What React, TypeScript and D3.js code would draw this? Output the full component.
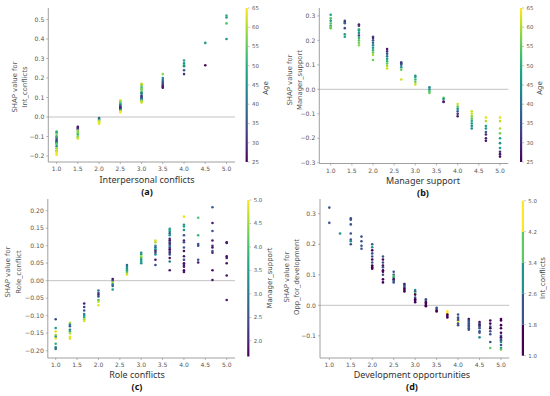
import React from "react";
import * as d3 from "d3";

// ---- (a) Interpersonal conflicts, coloured by Age
const intX = [1.0, 1.5, 2.0, 2.5, 3.0, 3.5, 4.0, 4.5, 5.0];
const intShap = [
  [-0.075, -0.08, -0.09, -0.1, -0.105, -0.11, -0.12, -0.125, -0.13, -0.135, -0.14, -0.15, -0.16, -0.17, -0.175, -0.18, -0.19, -0.195],
  [-0.05, -0.055, -0.06, -0.065, -0.07, -0.08, -0.085, -0.09, -0.1, -0.105, -0.11],
  [-0.005, -0.01, -0.015, -0.02, -0.025, -0.03, -0.035],
  [0.085, 0.08, 0.075, 0.07, 0.065, 0.06, 0.055, 0.05, 0.045, 0.04, 0.035, 0.03, 0.025],
  [0.17, 0.165, 0.16, 0.15, 0.145, 0.14, 0.13, 0.125, 0.12, 0.11, 0.105, 0.1, 0.095, 0.09, 0.085, 0.08, 0.075],
  [0.22, 0.2, 0.19, 0.18, 0.175, 0.165, 0.16, 0.155, 0.15],
  [0.29, 0.275, 0.265, 0.26, 0.24, 0.22],
  [0.38, 0.265],
  [0.52, 0.51, 0.48, 0.4],
];
const intAge = [
  [52, 48, 58, 45, 55, 40, 30, 35, 42, 50, 55, 45, 58, 62, 60, 63, 64, 65],
  [27, 28, 30, 32, 58, 55, 60, 52, 56, 60, 62],
  [36, 40, 46, 60, 62, 63, 64],
  [60, 62, 55, 58, 48, 42, 38, 30, 28, 35, 45, 62, 64],
  [60, 62, 56, 50, 58, 55, 58, 48, 40, 38, 30, 35, 33, 45, 54, 60, 62],
  [58, 45, 40, 38, 36, 32, 30, 29, 27],
  [48, 46, 52, 45, 35, 30],
  [47, 26],
  [52, 48, 54, 46],
];

// ---- (b) Manager support, coloured by Age
const mgrX = [1.0, 1.333, 1.667, 2.0, 2.333, 2.667, 3.0, 3.333, 3.667, 4.0, 4.333, 4.667, 5.0];
const mgrShap = [
  [0.305, 0.29, 0.28, 0.27, 0.26, 0.255, 0.25],
  [0.28, 0.275, 0.27, 0.25, 0.225, 0.215],
  [0.265, 0.26, 0.245, 0.24, 0.23, 0.22, 0.21, 0.2, 0.19, 0.18],
  [0.215, 0.21, 0.2, 0.19, 0.18, 0.17, 0.16, 0.15, 0.14, 0.12],
  [0.165, 0.155, 0.145, 0.135, 0.125, 0.115, 0.105, 0.095, 0.085],
  [0.11, 0.105, 0.1, 0.09, 0.08, 0.04],
  [0.055, 0.05, 0.04, 0.03, 0.02],
  [0.008, 0.0, -0.008, -0.015],
  [-0.035, -0.04, -0.05, -0.052],
  [-0.06, -0.07, -0.08, -0.09, -0.1, -0.11],
  [-0.09, -0.1, -0.11, -0.12, -0.13, -0.14, -0.15, -0.16],
  [-0.115, -0.13, -0.15, -0.16, -0.175, -0.185, -0.2, -0.21],
  [-0.115, -0.13, -0.16, -0.18, -0.2, -0.22, -0.24, -0.255, -0.265, -0.275],
];
const mgrAge = [
  [48, 54, 46, 55, 45, 58, 55],
  [35, 30, 38, 35, 47, 48],
  [28, 30, 53, 47, 45, 32, 52, 55, 56, 58],
  [35, 30, 36, 38, 44, 46, 52, 55, 60, 56],
  [28, 30, 35, 42, 46, 52, 55, 60, 62],
  [35, 30, 38, 45, 55, 62],
  [45, 48, 52, 56, 62],
  [44, 46, 53, 56],
  [55, 46, 30, 28],
  [62, 55, 44, 38, 30, 28],
  [62, 61, 58, 55, 50, 47, 45, 44],
  [63, 60, 48, 46, 36, 30, 28, 27],
  [63, 61, 60, 56, 48, 45, 47, 30, 28, 26],
];

// ---- (c) Role conflicts, coloured by Manager_support
const roleX = [1.0, 1.333, 1.667, 2.0, 2.333, 2.667, 3.0, 3.333, 3.667, 4.0, 4.333, 4.667, 5.0];
const roleShap = [
  [-0.11, -0.135, -0.145, -0.155, -0.16, -0.165, -0.18, -0.19, -0.195],
  [-0.12, -0.125, -0.13, -0.14, -0.145, -0.15, -0.16, -0.165],
  [-0.065, -0.075, -0.085, -0.095, -0.1, -0.105, -0.11, -0.115],
  [-0.028, -0.035, -0.04, -0.045, -0.055, -0.06, -0.07],
  [0.005, 0.0, -0.005, -0.01, -0.015, -0.025],
  [0.045, 0.04, 0.035, 0.03, 0.025, 0.02, 0.018],
  [0.08, 0.075, 0.07, 0.065, 0.06, 0.055, 0.05],
  [0.115, 0.11, 0.1, 0.095, 0.09, 0.085, 0.08, 0.075, 0.06, 0.045],
  [0.148, 0.145, 0.14, 0.135, 0.13, 0.12, 0.115, 0.11, 0.105, 0.1, 0.095, 0.09, 0.085, 0.08, 0.075, 0.065, 0.055, 0.03],
  [0.183, 0.16, 0.155, 0.145, 0.13, 0.115, 0.11, 0.095, 0.085, 0.07, 0.06, 0.05, 0.045, 0.04, 0.03, 0.025],
  [0.18, 0.13, 0.105, 0.1, 0.06, 0.052],
  [0.21, 0.165, 0.142, 0.115, 0.1, 0.095, 0.085, 0.08, 0.03, 0.002],
  [0.11, 0.108, 0.07, 0.065, 0.05, 0.015, -0.055],
];
const roleMgr = [
  [2.4, 3.5, 4.8, 4.5, 3.3, 4.9, 3.8, 3.2, 2.8],
  [4.7, 3.2, 2.6, 3.0, 3.8, 4.6, 4.9, 4.8],
  [1.9, 2.3, 2.6, 3.2, 3.4, 3.8, 4.5, 4.8],
  [3.0, 2.4, 2.0, 2.5, 4.0, 4.7, 4.9],
  [1.8, 2.4, 4.6, 3.3, 2.7, 3.5],
  [2.8, 3.2, 3.4, 3.6, 4.0, 4.5, 4.8],
  [3.3, 3.5, 4.6, 4.0, 3.3, 3.6, 3.4],
  [4.8, 4.6, 3.2, 2.6, 3.5, 2.0, 2.5, 3.3, 1.9, 2.4],
  [3.4, 3.8, 3.2, 2.6, 3.5, 2.0, 1.8, 2.5, 1.9, 3.0, 2.4, 1.8, 2.3, 1.9, 2.5, 1.8, 3.0, 1.9],
  [4.9, 3.4, 3.7, 3.3, 2.5, 2.0, 2.4, 2.6, 1.8, 1.9, 2.3, 1.8, 2.0, 1.9, 1.8, 1.8],
  [4.1, 3.9, 2.6, 2.5, 2.6, 1.9],
  [2.7, 1.9, 2.5, 1.9, 2.3, 1.8, 2.6, 2.0, 1.8, 1.8],
  [1.8, 1.9, 1.8, 1.9, 1.8, 1.8, 1.9],
];

// ---- (d) Development opportunities, coloured by Int_conflicts
const devX = [1.0, 1.25, 1.5, 1.75, 2.0, 2.25, 2.5, 2.75, 3.0, 3.25, 3.5, 3.75, 4.0, 4.25, 4.5, 4.75, 5.0];
const devShap = [
  [0.32, 0.27],
  [0.235],
  [0.285, 0.28, 0.265, 0.235, 0.215, 0.21, 0.2],
  [0.225, 0.21, 0.195, 0.185],
  [0.2, 0.19, 0.18, 0.17, 0.16, 0.15, 0.14, 0.13, 0.125, 0.12],
  [0.16, 0.15, 0.14, 0.13, 0.125, 0.115, 0.11, 0.1, 0.085, 0.075],
  [0.11, 0.1, 0.095, 0.09, 0.085, 0.08, 0.075],
  [0.07, 0.065, 0.06, 0.055, 0.05, 0.045],
  [0.05, 0.045, 0.04, 0.035, 0.025, 0.02, 0.015, 0.01],
  [0.02, 0.015, 0.01, 0.005, 0.0, -0.003],
  [-0.008, -0.012, -0.018, -0.02],
  [-0.02, -0.025, -0.03, -0.035, -0.04],
  [-0.03, -0.04, -0.045, -0.05, -0.055, -0.06, -0.065],
  [-0.045, -0.05, -0.055, -0.06, -0.065, -0.07, -0.075, -0.08],
  [-0.055, -0.06, -0.065, -0.07, -0.075, -0.085, -0.09, -0.105],
  [-0.05, -0.06, -0.07, -0.075, -0.085, -0.095, -0.12, -0.14],
  [-0.045, -0.05, -0.065, -0.075, -0.09, -0.1, -0.105, -0.11, -0.115, -0.12, -0.13, -0.14, -0.145],
];
const devInt = [
  [2.2, 2.2],
  [3.0],
  [2.2, 2.2, 2.2, 2.2, 2.2, 3.0, 2.2],
  [2.2, 2.2, 2.2, 2.2],
  [2.2, 3.0, 1.4, 2.2, 2.2, 1.4, 2.2, 1.4, 1.4, 1.4],
  [2.2, 1.4, 2.2, 1.4, 2.2, 1.4, 1.4, 2.2, 1.4, 1.4],
  [2.2, 2.2, 3.8, 3.0, 1.4, 2.2, 2.2],
  [1.4, 2.2, 2.2, 1.4, 1.4, 1.4],
  [3.0, 2.2, 3.8, 1.4, 2.2, 1.4, 1.4, 1.4],
  [2.2, 2.2, 1.4, 1.4, 1.4, 1.4],
  [2.2, 2.2, 1.4, 1.4],
  [4.6, 4.6, 1.4, 1.4, 1.4],
  [2.2, 2.2, 2.2, 2.2, 4.6, 2.2, 2.2],
  [1.4, 2.2, 2.2, 2.2, 2.2, 2.2, 2.2, 2.2],
  [1.4, 2.2, 1.4, 2.2, 2.2, 2.2, 2.2, 3.0],
  [1.4, 1.4, 2.2, 1.4, 2.2, 2.2, 2.2, 3.8],
  [1.4, 1.4, 1.4, 1.4, 1.4, 2.2, 1.4, 2.2, 2.2, 3.0, 2.2, 3.0, 3.8],
];

// tick labels
const ageTicks = [25, 30, 35, 40, 45, 50, 55, 60, 65];
const mgrCbTicks = [2.0, 2.5, 3.0, 3.5, 4.0, 4.5, 5.0];
const intCbTicks = [1.0, 1.8, 2.6, 3.4, 4.2, 5.0];

const FONT = "'DejaVu Sans', sans-serif";
const LABEL_FONT = "'Noto Sans', 'Open Sans', sans-serif";
const CBW = 2.2;

const discrete = d3
  .scaleQuantize<string>()
  .domain([1, 5])
  .range([0, 0.25, 0.5, 0.75, 1].map((t) => d3.interpolateViridis(t)));

const panels = [
  {
    id: "a",
    xs: intX, ys: intShap, cs: intAge,
    xTicks: d3.range(1, 5.01, 0.5), xPix: [56.6, 226.5],
    yTicks: d3.range(-0.2, 0.51, 0.1), yFmt: ".1f", yPix: [117, 19.5], yRef: [0, 0.5],
    left: 48.3, right: 235, top: 8, bottom: 162,
    cbX: 245.6, cbTop: 8, cbBottom: 162, cbDomain: [25, 65], cbTicks: ageTicks, cbFmt: "d", discrete: false,
    cbLabel: "Age", cbLabelX: 268, cbLabelY: 88,
    yLabel: ["SHAP value for", "Int_conflicts"], yLabelX: [17.3, 26.7], yLabelY: 87,
    xLabel: "Interpersonal conflicts", xLabelX: 147, xLabelY: 183, tagY: 195,
  },
  {
    id: "b",
    xs: mgrX, ys: mgrShap, cs: mgrAge,
    xTicks: d3.range(1, 5.01, 0.5), xPix: [330.7, 500],
    yTicks: d3.range(-0.3, 0.31, 0.1), yFmt: ".1f", yPix: [89.3, 15.9], yRef: [0, 0.3],
    left: 319.3, right: 508.3, top: 8, bottom: 163.5,
    cbX: 520, cbTop: 8, cbBottom: 162, cbDomain: [25, 65], cbTicks: ageTicks, cbFmt: "d", discrete: false,
    cbLabel: "Age", cbLabelX: 542, cbLabelY: 88,
    yLabel: ["SHAP value for", "Manager_support"], yLabelX: [291.7, 301.5], yLabelY: 80,
    xLabel: "Manager support", xLabelX: 423, xLabelY: 184, tagY: 196.3,
  },
  {
    id: "c",
    xs: roleX, ys: roleShap, cs: roleMgr,
    xTicks: d3.range(1, 5.01, 0.5), xPix: [55.7, 226.7],
    yTicks: d3.range(-0.2, 0.201, 0.05), yFmt: ".2f", yPix: [280.7, 210.7], yRef: [0, 0.2],
    left: 47.8, right: 235, top: 199, bottom: 358,
    cbX: 247.2, cbTop: 200, cbBottom: 356.5, cbDomain: [1.667, 5], cbTicks: mgrCbTicks, cbFmt: ".1f", discrete: false,
    cbLabel: "Manager_support", cbLabelX: 271.5, cbLabelY: 278,
    yLabel: ["SHAP value for", "Role_conflict"], yLabelX: [10.3, 20.5], yLabelY: 272,
    xLabel: "Role conflicts", xLabelX: 137, xLabelY: 378, tagY: 389.8,
  },
  {
    id: "d",
    xs: devX, ys: devShap, cs: devInt,
    xTicks: d3.range(1, 5.01, 0.5), xPix: [329.3, 501],
    yTicks: [-0.1, 0, 0.1, 0.2, 0.3], yFmt: ".1f", yPix: [305.3, 213.7], yRef: [0, 0.3],
    left: 320, right: 509.3, top: 199, bottom: 358,
    cbX: 521.8, cbTop: 200.7, cbBottom: 355.7, cbDomain: [1, 5], cbTicks: intCbTicks, cbFmt: ".1f", discrete: true,
    cbLabel: "Int_conflicts", cbLabelX: 545, cbLabelY: 278,
    yLabel: ["SHAP value for", "Opp_for_development"], yLabelX: [289, 299], yLabelY: 277,
    xLabel: "Development opportunities", xLabelX: 412, xLabelY: 378, tagY: 389.8,
  },
];

type P = (typeof panels)[number];

function Panel({ p }: { p: P }) {
  const x = d3.scaleLinear().domain([1, 5]).range(p.xPix);
  const y = d3.scaleLinear().domain(p.yRef).range(p.yPix);
  const cb = d3.scaleLinear().domain(p.cbDomain).range([p.cbBottom, p.cbTop]);
  const colorOf = (v: number) =>
    p.discrete
      ? discrete(v)
      : d3.interpolateViridis((v - p.cbDomain[0]) / (p.cbDomain[1] - p.cbDomain[0]));
  const fy = d3.format(p.yFmt);
  const fmtY = (v: number) => fy(v).replace("-", "\u2212");
  const fcb = d3.format(p.cbFmt);
  const gradId = "grad-" + p.id;
  const pts = p.xs.flatMap((xv, i) => p.ys[i].map((yv, j) => ({ xv, yv, c: p.cs[i][j] })));

  return (
    <g>
      {!p.discrete && (
        <defs>
          <linearGradient id={gradId} x1="0" y1="1" x2="0" y2="0">
            {d3.range(0, 1.001, 0.1).map((t) => (
              <stop key={t} offset={t} stopColor={d3.interpolateViridis(t)} />
            ))}
          </linearGradient>
        </defs>
      )}
      {/* zero line */}
      <line x1={p.left} x2={p.right} y1={y(0)} y2={y(0)} stroke="#bbb" strokeWidth={0.9} />
      {/* spines */}
      <line x1={p.left} x2={p.left} y1={p.top} y2={p.bottom} stroke="#888" strokeWidth={0.8} />
      <line x1={p.left} x2={p.right} y1={p.bottom} y2={p.bottom} stroke="#888" strokeWidth={0.8} />
      {p.xTicks.map((t) => (
        <g key={"x" + t}>
          <line x1={x(t)} x2={x(t)} y1={p.bottom} y2={p.bottom + 2} stroke="#888" strokeWidth={0.6} />
          <text x={x(t)} y={p.bottom + 9} textAnchor="middle" fontSize={6} fill="#555" fontFamily={FONT}>
            {t.toFixed(1)}
          </text>
        </g>
      ))}
      {p.yTicks.map((t) => (
        <g key={"y" + t}>
          <line x1={p.left - 2} x2={p.left} y1={y(t)} y2={y(t)} stroke="#888" strokeWidth={0.6} />
          <text x={p.left - 4} y={y(t) + 2.2} textAnchor="end" fontSize={6.1} fill="#555" fontFamily={FONT}>
            {fmtY(Math.abs(t) < 1e-9 ? 0 : t)}
          </text>
        </g>
      ))}
      {pts.map((d, k) => (
        <circle key={k} cx={x(d.xv)} cy={y(d.yv)} r={1.3} fill={colorOf(d.c)} />
      ))}
      {/* colorbar */}
      {p.discrete ? (
        discrete.range().map((c, k) => {
          const [a, b] = discrete.invertExtent(c);
          return <rect key={k} x={p.cbX} width={CBW} y={cb(b)} height={cb(a) - cb(b)} fill={c} />;
        })
      ) : (
        <rect x={p.cbX} width={CBW} y={p.cbTop} height={p.cbBottom - p.cbTop} fill={`url(#${gradId})`} />
      )}
      {p.cbTicks.map((t) => (
        <g key={"c" + t}>
          <line x1={p.cbX + CBW} x2={p.cbX + CBW + 1.8} y1={cb(t)} y2={cb(t)} stroke="#888" strokeWidth={0.5} />
          <text x={p.cbX + 6.5} y={cb(t) + 1.9} fontSize={5.4} fill="#555" fontFamily={FONT}>
            {fcb(t)}
          </text>
        </g>
      ))}
      <text
        transform={`translate(${p.cbLabelX},${p.cbLabelY}) rotate(-90)`}
        textAnchor="middle"
        fontSize={7}
        fill="#444"
        fontFamily={FONT}
      >
        {p.cbLabel}
      </text>
      {p.yLabel.map((s, k) => (
        <text
          key={s}
          transform={`translate(${p.yLabelX[k]},${p.yLabelY}) rotate(-90)`}
          textAnchor="middle"
          fontSize={6.9}
          fill="#555"
          fontFamily={FONT}
        >
          {s}
        </text>
      ))}
      <text x={p.xLabelX} y={p.xLabelY} textAnchor="middle" fontSize={9} fill="#333" fontFamily={LABEL_FONT}>
        {p.xLabel}
      </text>
      <text x={p.xLabelX} y={p.tagY} textAnchor="middle" fontSize={9} fontWeight="bold" fill="#111" fontFamily={LABEL_FONT}>
        ({p.id})
      </text>
    </g>
  );
}

export default function App() {
  return (
    <svg
      width={550}
      height={396}
      style={{ position: "absolute", left: 0, top: 0, background: "#fff" }}
    >
      <rect width={550} height={396} fill="#fff" />
      {panels.map((p) => (
        <Panel key={p.id} p={p} />
      ))}
    </svg>
  );
}
